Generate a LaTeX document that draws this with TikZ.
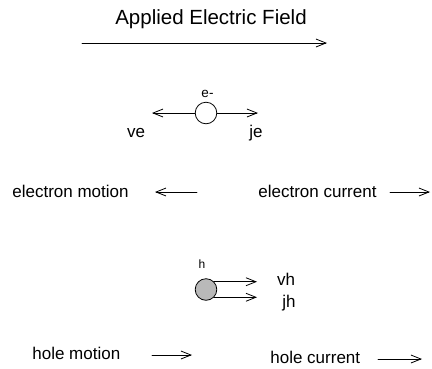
\documentclass[tikz,border=0pt]{standalone}
\usepackage{fontspec}
\setmainfont{Liberation Sans}
\usetikzlibrary{arrows.meta}
\definecolor{holegray}{RGB}{185,185,185}

\begin{document}
\begin{tikzpicture}[x=1pt, y=-1pt, line cap=round, line join=round, line width=0.8pt,
	>={Straight Barb[length=10pt,width=8pt]}, font=\fontsize{17}{20}\selectfont,
	lbl/.style={anchor=base west, inner sep=0pt},
	tag/.style={anchor=base, inner sep=0pt},
	particle/.style={circle, draw, minimum size=21.6pt, inner sep=0pt}]
	\useasboundingbox (0,0) rectangle (432,368);
	
	% Điện trường ngoài
	\node[tag, font=\fontsize{20.5}{24}\selectfont] (title) at (211,24) {Applied Electric Field};
	\coordinate (F0) at (82,43);
	\coordinate (F1) at (327,43);
	\draw[->] (F0) -- (F1);
	
	% Electron
	\node[particle] (e) at (206,113) {};
	\node[tag, font=\fontsize{13.5}{16}\selectfont] (eName) at (207.5,97) {e-};
	\coordinate (veTip) at (152,113);
	\coordinate (jeTip) at (258,113);
	\draw[->] (e) -- (veTip);
	\draw[->] (e) -- (jeTip);
	\node[tag] (ve) at (136,137) {ve};
	\node[tag] (je) at (256,137) {je};
	
	% Chiều chuyển động và dòng electron
	\node[lbl] (eMotion) at (12,197) {electron motion};
	\coordinate (em0) at (197,192);
	\coordinate (em1) at (155,192);
	\draw[->] (em0) -- (em1);
	\node[lbl] (eCurrent) at (258,197) {electron current};
	\coordinate (ec0) at (390,192);
	\coordinate (ec1) at (430,192);
	\draw[->] (ec0) -- (ec1);
	
	% Lỗ trống
	\node[particle, fill=holegray] (h) at (206,289.5) {};
	\node[tag, font=\fontsize{12}{14}\selectfont] (hName) at (202,268) {h};
	\coordinate (vhTip) at (257,282);
	\coordinate (jhTip) at (257,297);
	\draw[->] (h.44) -- (h.44 -| vhTip);
	\draw[->] (h.-44) -- (h.-44 -| jhTip);
	\node[tag] (vh) at (286,285) {vh};
	\node[tag] (jh) at (289,307) {jh};
	
	% Chiều chuyển động và dòng lỗ trống
	\node[lbl] (hMotion) at (32,359) {hole motion};
	\coordinate (hm0) at (152,355);
	\coordinate (hm1) at (192,355);
	\draw[->] (hm0) -- (hm1);
	\node[lbl] (hCurrent) at (270,363) {hole current};
	\coordinate (hc0) at (378,359);
	\coordinate (hc1) at (422,359);
	\draw[->] (hc0) -- (hc1);
\end{tikzpicture}
\end{document}
